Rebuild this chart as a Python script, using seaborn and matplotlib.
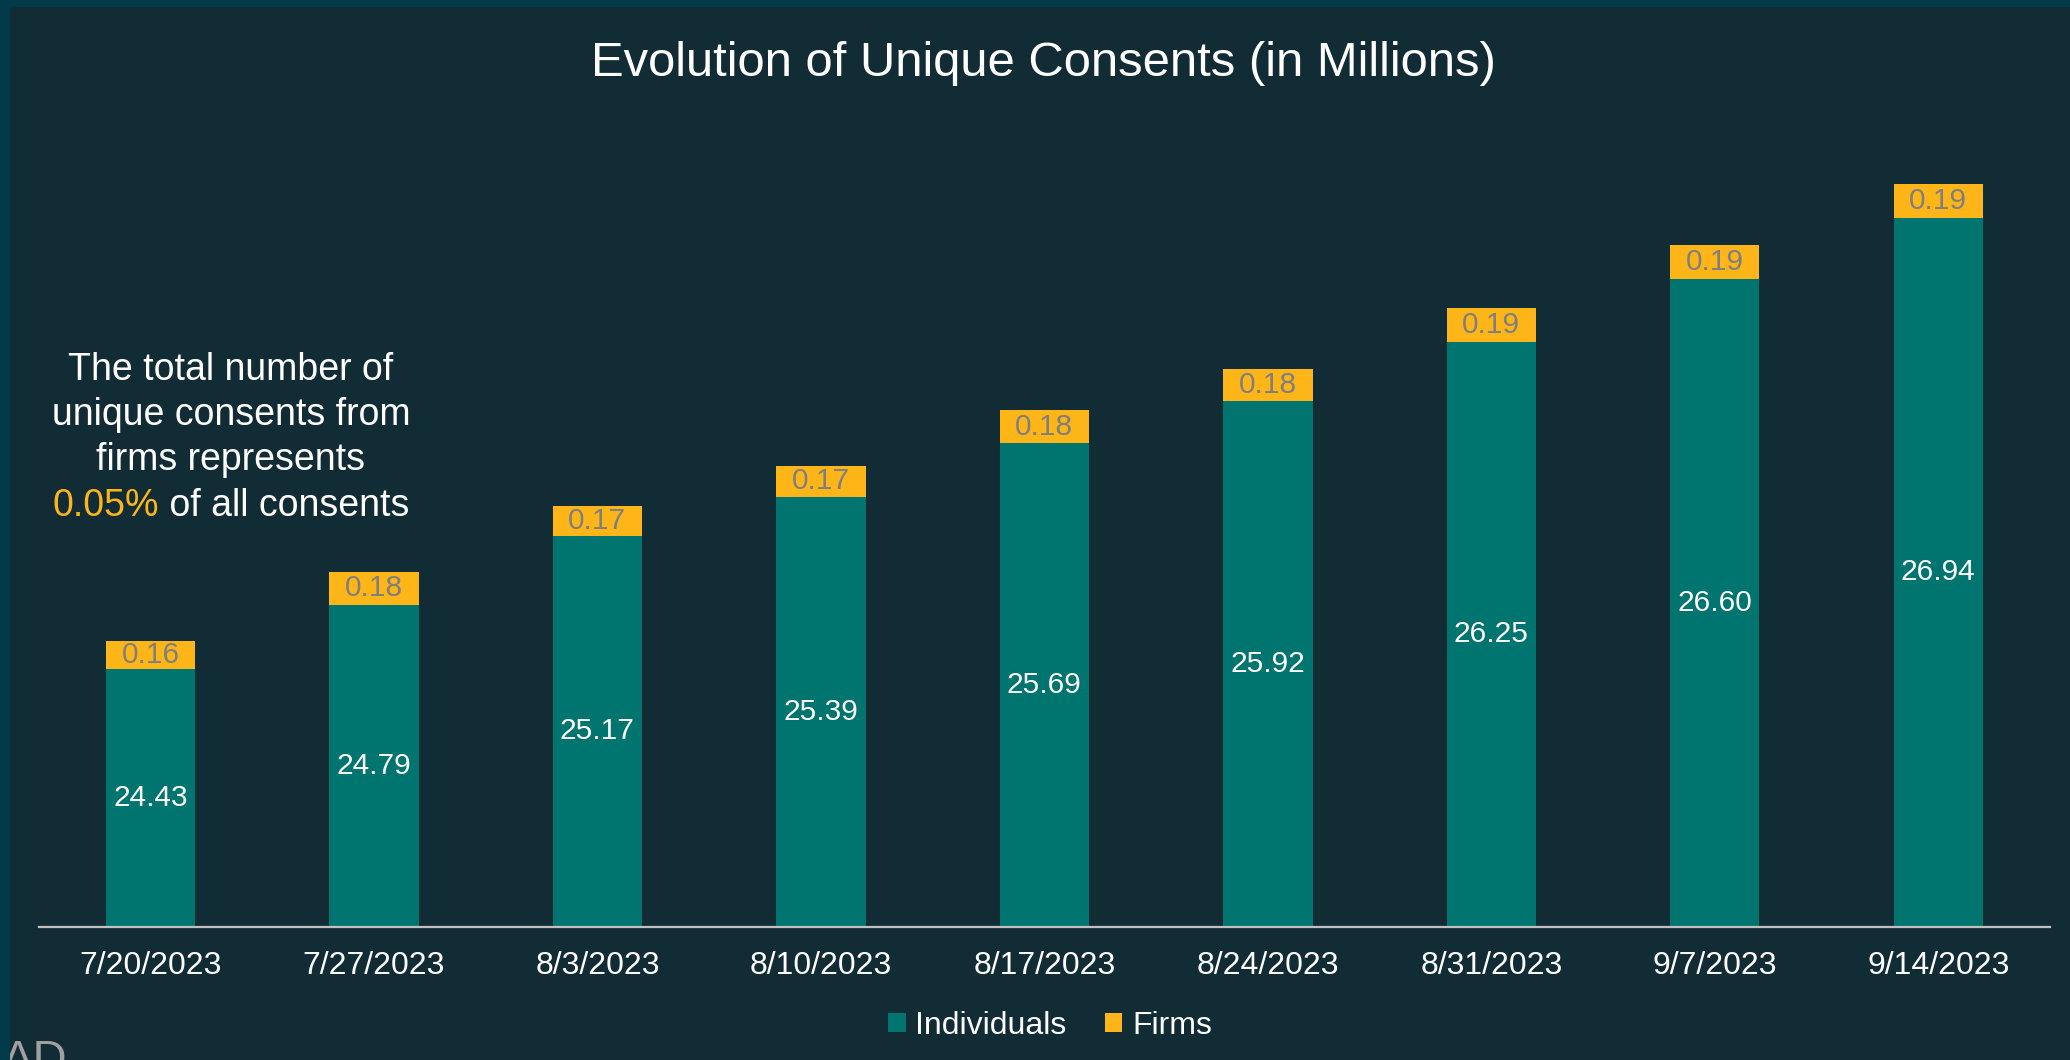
import matplotlib
matplotlib.use("Agg")
import matplotlib.pyplot as plt
from matplotlib.patches import Rectangle, Patch
import pandas as pd
import seaborn as sns

# ---- data (millions of unique consents) ----
dates = ["7/20/2023", "7/27/2023", "8/3/2023", "8/10/2023", "8/17/2023",
         "8/24/2023", "8/31/2023", "9/7/2023", "9/14/2023"]
individuals = [24.43, 24.79, 25.17, 25.39, 25.69, 25.92, 26.25, 26.60, 26.94]
firms = [0.16, 0.18, 0.17, 0.17, 0.18, 0.18, 0.19, 0.19, 0.19]
series_names = ["Individuals", "Firms"]
title_text = "Evolution of Unique Consents (in Millions)"
note_lines = ["The total number of", "unique consents from", "firms represents"]
firm_share = "0.05%"
note_tail = " of all consents"
corner_text = "AD"

# ---- styling ----
BG = "#112c35"
BORDER = "#013a48"
TEAL = "#00746f"
GOLD = "#fdb517"
FIRM_LABEL = "#7f7f7f"
AXIS_LINE = "#c0c0c0"
W, H = 2070, 1060

sns.set_theme(style="white")
plt.rcParams["font.family"] = ["Liberation Sans", "DejaVu Sans"]

df = pd.DataFrame({"date": dates, "Individuals": individuals, "Firms": firms})
df["Total"] = df["Individuals"] + df["Firms"]

fig = plt.figure(figsize=(W / 100, H / 100), dpi=100, facecolor=BG)
ax_left, ax_right, ax_bottom, ax_top = 38.75, 2050, 926.5, 27.5
ax = fig.add_axes([ax_left / W, (H - ax_bottom) / H,
                   (ax_right - ax_left) / W, (ax_bottom - ax_top) / H])
ax.set_facecolor(BG)

# stacked bars: total (firms on top) first, then individuals over it
sns.barplot(data=df, x="date", y="Total", color=GOLD, saturation=1,
            width=0.4, linewidth=0, ax=ax)
sns.barplot(data=df, x="date", y="Individuals", color=TEAL, saturation=1,
            width=0.4, linewidth=0, ax=ax)

y_min = 23.0
ax.set_ylim(y_min, 28.0)
ax.set_xlim(-0.5, len(dates) - 0.5)
ax.set_xlabel("")
ax.set_ylabel("")
ax.set_yticks([])
for side in ("left", "right", "top"):
    ax.spines[side].set_visible(False)
ax.spines["bottom"].set_color(AXIS_LINE)
ax.spines["bottom"].set_linewidth(1.6)
ax.tick_params(axis="x", length=0, pad=18, labelsize=23, labelcolor="white")

# value labels inside each segment
for i, (ind, frm) in enumerate(zip(individuals, firms)):
    ax.text(i, (y_min + ind) / 2, f"{ind:.2f}", ha="center", va="center",
            color="white", fontsize=21.5)
    ax.text(i, ind + frm / 2, f"{frm:.2f}", ha="center", va="center",
            color=FIRM_LABEL, fontsize=21.5)

# title
fig.text(1043 / W, 1 - 64 / H, title_text, ha="center", va="center",
         color="white", fontsize=35.3)

# side note
note_x = 231
for y, line in zip([370, 415, 460], note_lines):
    fig.text(note_x / W, 1 - y / H, line, ha="center", va="center",
             color="white", fontsize=27)
t_share = fig.text(0, 1 - 506 / H, firm_share, ha="left", va="center",
                   color=GOLD, fontsize=27)
t_tail = fig.text(0, 1 - 506 / H, note_tail, ha="left", va="center",
                  color="white", fontsize=27)
fig.canvas.draw()
r = fig.canvas.get_renderer()
w_share = t_share.get_window_extent(r).width
w_tail = t_tail.get_window_extent(r).width
start = note_x - (w_share + w_tail) / 2
t_share.set_x(start / W)
t_tail.set_x((start + w_share) / W)

# legend
handles = [Patch(facecolor=TEAL, edgecolor="none"),
           Patch(facecolor=GOLD, edgecolor="none")]
leg = fig.legend(handles, series_names, loc="center",
                 bbox_to_anchor=(1050 / W, 1 - 1026 / H), ncol=2,
                 frameon=False, fontsize=23, handlelength=0.55,
                 handleheight=0.55, handletextpad=0.3, columnspacing=1.2)
for t in leg.get_texts():
    t.set_color("white")

# partially visible corner text
fig.text(2 / W, 1 - 1039 / H, corner_text, ha="left", va="top",
         color="#a0a0a0", fontsize=34, zorder=1)

# frame strips on the left and top edges
fig.patches.append(Rectangle((0, 0), 10 / W, 1, transform=fig.transFigure,
                             facecolor=BORDER, edgecolor="none", zorder=5))
fig.patches.append(Rectangle((0, 1 - 7 / H), 1, 7 / H, transform=fig.transFigure,
                             facecolor=BORDER, edgecolor="none", zorder=5))

fig.savefig("out.png", dpi=100, facecolor=BG)
